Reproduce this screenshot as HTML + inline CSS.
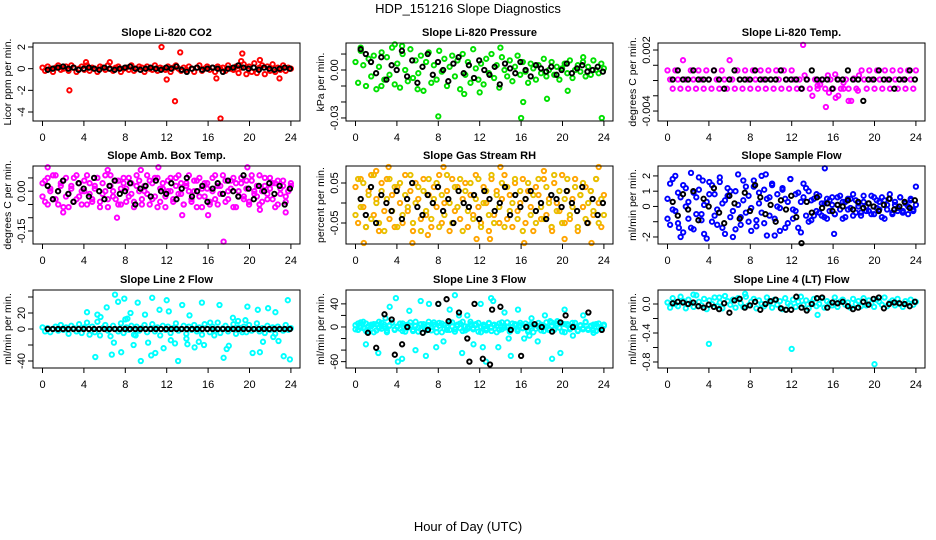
<!DOCTYPE html>
<html><head><meta charset="utf-8"><title>HDP_151216 Slope Diagnostics</title>
<style>
html,body{margin:0;padding:0;background:#fff;}
svg{display:block;font-family:"Liberation Sans",sans-serif;}
</style></head>
<body>
<svg id="chart" width="936" height="540" viewBox="0 0 936 540" xmlns="http://www.w3.org/2000/svg">
<rect x="0" y="0" width="936" height="540" fill="#fff"/>
<text x="468" y="13" font-size="13" text-anchor="middle">HDP_151216  Slope Diagnostics</text>
<text x="468" y="531" font-size="13" text-anchor="middle">Hour of Day (UTC)</text>
<g id="panels"></g>
</svg>
<script>
// ---- data (values in panel units; see unit per panel) ----
const xTickHours = [0,4,8,12,16,20,24];
const xTickLabels = ['0','4','8','12','16','20','24'];

const co2Band = [1,-2,2,0,-3,1,3,-1,0,2,-2,3,1,-3,0,2,-1,3,-2,1,0,-3,2,1,-1,3,0,-2,1,2,-3,0,1,-1,3,-2,0,2,1,-3,2,0,-1,3,-2,1,0,-1,2,-3,1,3,0,-2,1,-1,2,0,-3,1,3,-2,0,2,-1,1,-3,2,0,1,-2,3,0,-1,2,-4,1,4,-5,2,-3,5,-4,1,3,-5,2,-2,4,-3,1,-1,3,-2,1,0];
const co2Black = [-1,0,1,2,0,1,-1,0,1,0,-1,1,0,-1,0,1,2,0,-1,0,1,0,-1,1,0,2,-1,-3,0,1,-1,0,1,0,-3,0,1,3,1,0,1,-1,1,0,-1,0,1,0];
const co2ExH = [2.6,11.5,12,12.8,13.3,16.8,17.2,19.3,21,4.2,6.5,19.2,22.9];
const co2ExV = [-20,20,-10,-30,15,-9,-46,14,8,6,6,7,-9];

const presBand = [5,-8,12,3,-10,7,-4,9,-12,2,11,-6,8,-3,14,-9,4,-11,10,0,-7,13,-5,6,-2,9,-13,5,11,-8,3,-6,12,-1,7,-10,2,9,-4,6,-12,10,-3,5,-8,13,1,-6,4,-9,7,-2,10,-5,3,-11,8,0,-4,6,-7,2,9,-3,5,-1,-8,4,1,-6,3,-2,7,-4,0,5,-3,2,-6,1,4,-2,6,-5,0,3,-1,5,-4,2,-3,6,0,-2,4,1];
const presBlack = [13,10,5,-2,8,-6,3,0,12,-4,6,-8,2,10,-3,5,0,-7,4,8,-2,3,-5,6,0,-3,2,-9,4,1,-2,5,0,-4,3,1,-1,2,-3,0,4,-2,1,3,-1,0,2,-1];
const presExH = [0.5,3.8,4.5,8,10.5,14,16,16.2,18.5,23.8,6,2.5,12,20.5,22];
const presExV = [14,16,15,-29,-15,14,-30,-20,-18,-30,-12,-10,-14,-13,8];

const tempBand = [0,-9,-18,0,-9,-18,10,-9,-18,0,-9,-18,0,-9,-18,0,-9,-18,0,-9,-18,0,-9,-18,10,-9,-18,0,-9,-18,0,-9,-18,0,-9,-18,0,-9,-18,0,-9,-18,0,-9,-18,0,-9,-18,0,-9,-18,-9,-18,-5,-9,-18,-25,-9,-18,-14,-9,-18,-5,-9,-18,-27,-9,-18,-18,-9,-18,-30,-9,-18,-5,0,-9,-18,0,-9,-18,0,-9,-18,0,-9,-18,0,-9,-18,0,-9,-18,0,-9,-18,0];
const tempBlack = [-9,0,-9,-9,0,-9,-9,-9,0,-9,-18,-9,0,-9,-9,-9,0,-9,-9,-9,-9,0,-9,-9,-9,-18,-9,0,-9,-9,-9,-18,-9,-9,0,-9,-9,-30,-9,-9,0,-9,-9,-18,-9,-9,0,-9];
const tempExH = [0.6,13.1,15.3,15.6,16.5,17,17.5,18,18.4,14.5,16.2];
const tempExV = [28,25,-36,-22,-25,-12,-30,-8,-20,-15,-4];

const ambBand = [3,-4,5,0,-3,6,-5,2,4,-2,-6,1,5,-3,3,-5,0,6,-1,-4,2,5,-6,3,0,-3,6,-2,4,-5,1,3,-4,5,-1,-6,2,4,-3,0,6,-5,3,-2,5,-4,1,-6,4,0,-3,5,-1,3,-5,2,6,-4,0,4,-2,-6,3,1,-5,5,-3,2,-1,6,-4,0,4,-6,3,-2,5,-3,1,-5,4,0,-2,6,-4,2,-1,5,-3,3,-5,1,4,-2,0,2];
const ambBand2 = [-2,4,-5,1,6,-3,0,3,-6,5,-1,2,-4,6,-2,0,4,-5,3,-3,1,5,-4,-1,6,-6,2,0,-3,4,-5,5,1,-2,3,-4,6,0,-5,2,-1,4,-3,5,-6,1,3,-2,0,5,-4,2,6,-1,-5,3,0,-3,4,-6,5,1,-2,3,-4,0,6,-5,2,-1,4,-3,1,5,-6,0,3,-2,4,-4,6,-1,2,-5,0,5,-3,1,3,-6,4,-1,2,-4,0,3];
const ambBlack = [2,-3,0,4,-1,-4,3,1,-2,5,0,-3,2,4,-1,0,3,-5,1,2,-2,4,0,-1,3,-3,1,5,-2,0,2,-4,1,3,-1,4,0,-2,6,1,-3,2,0,3,-1,2,-5,1];
const ambExH = [0.5,2,7.2,9.5,13.5,16,17.5,19.8,21,23.5,6.3,11.2];
const ambExV = [9,-8,-10,8,-9,-9,-19,9,-7,-8,8,9];

const rhBand = [4,-5,6,-1,-6,3,7,-3,1,-7,5,-2,6,-4,2,-6,4,0,-5,7,-2,3,-7,5,1,-4,6,-3,2,-6,4,-1,7,-5,0,3,-7,6,-2,4,-4,1,5,-6,2,-3,7,-1,-5,4,0,-7,6,-3,3,-5,1,7,-4,2,-6,5,-2,0,6,-5,3,-1,-7,4,2,-4,6,-3,1,-6,5,0,-2,7,-5,3,-4,1,6,-7,2,-1,4,-5,3,-3,6,0,-6,2];
const rhBand2 = [-3,6,-1,5,-6,2,-4,7,0,-5,3,-7,1,6,-2,4,-6,5,-3,2,-1,7,-5,0,4,-7,3,-2,6,-4,1,5,-6,2,-3,7,0,-5,4,-1,6,-7,3,-2,5,-4,1,6,-6,0,3,-3,7,-5,2,-1,5,-6,4,-2,0,6,-4,3,-7,1,5,-3,2,-5,6,-1,-4,4,0,-6,7,-2,3,-5,1,6,-3,-1,4,-6,2,5,-4,0,3,-2,6,-5,1,-3];
const rhBlack = [1,-3,4,-5,2,0,-2,3,-4,1,5,-1,-3,2,0,4,-2,1,-5,3,0,-1,2,-4,3,1,-2,0,4,-3,2,-1,1,3,-2,0,-4,2,1,-1,3,0,-2,4,-5,1,-3,0];
const rhExH = [0.8,2,5.5,8.5,11.7,14,16.3,18.2,20.2,22.8,23.5,3.2,7,13,19];
const rhExV = [-10,8,-10,9,-9,9,-10,8,-9,-10,9,9,-8,-9,-7];

const flowBand = [5,-12,18,-3,9,-20,14,0,-8,22,-15,6,11,-5,-18,3,16,-10,8,-2,19,-14,4,12,-7,-20,10,1,-12,17,-4,7,-16,13,-9,2,20,-11,5,-6,15,-19,8,-1,11,-14,3,18,-8,-3,9,-17,6,12,-10,4,-6,8,-4,2,-7,5,-3,6,-5,1,7,-8,3,-2,5,-6,4,0,-4,7,-3,2,-5,6,-1,3,-7,4,-2,8,-5,1,-3,6,-4,2,0,5,-3,13];
const flowBand2 = [-8,15,-2,20,-11,6,-17,12,3,-14,9,-5,19,-9,1,-21,8,14,-6,-12,16,2,-18,7,10,-3,-15,21,-7,4,13,-10,-1,17,-13,9,-4,11,-19,6,14,-8,0,-16,12,5,-11,18,-2,8,-14,3,15,-6,10,-9,5,-3,7,-6,2,-8,4,1,-5,6,-2,3,-7,5,-1,8,-4,2,-6,3,0,-3,7,-5,4,-2,6,-8,1,5,-4,3,-1,6,-3,2,-5,4,-2,1];
const flowBlack = [3,-6,8,-2,10,-9,5,0,12,-4,-11,7,2,-8,9,-3,14,6,-5,1,-10,4,-2,7,-7,-24,3,-4,6,-1,2,-3,1,0,4,-2,3,-1,2,0,-3,1,5,-2,0,3,-1,4];
const flowExH = [9.5,15.2,16.1,1.1,3.4];
const flowExV = [21,25,-18,-14,17];

const l2Band = [2,-3,1,-4,0,3,-2,5,-1,2,-6,4,1,-3,6,-5,2,8,-7,3,-4,9,-8,1,5,-2,-9,4,0,-3,7,-5,2,-1,4,-7,3,-2,1,5,-4,0,6,-3,2,-8,4,-1,3,-5,1,7,-2,0,4,-6,3,-1,5,-3,2,-7,6,0,-4,3,-2,8,-5,1,4,-3,0,6,-6,2,-1,3,-4,5,-2,0,7,-3,1,-5,4,-1,2,-6,3,0,-2,5,-1,1];
const l2Black = [0,0,0,0,0,0,0,0,0,0,0,0,0,0,0,0,0,0,0,0,0,0,0,0,0,0,0,0,0,0,0,0,0,0,0,0,0,0,0,0,0,0,0,0,0,0,0,0];
const l2ExH = [4.3,5.1,5.6,6.2,6.7,7,7.3,7.6,7.9,8.2,8.5,8.8,9.2,9.5,9.9,10.2,10.6,10.9,11.3,11.7,12,12.4,12.8,13.1,13.5,13.9,14.2,14.7,15.1,15.6,16.2,16.6,17.1,17.5,18,18.4,18.9,19.3,19.8,20.3,20.8,21.3,21.8,22.3,22.8,23.3,23.7,5.3,6.9,8,9,10.5,12.2,14,15.4,17.8,19.6,21,22.5,23.9];
const l2ExV = [21,-35,15,27,-32,43,34,-29,38,13,20,-20,33,-40,18,-17,39,-30,24,-24,36,-14,-18,-40,30,-12,17,-23,-16,-20,8,-8,30,-36,-21,14,10,-4,28,-30,24,-16,26,-10,-15,-34,36,18,-17,12,-8,-33,22,-19,33,-25,11,-29,21,-38];

const l3Band = [3,-5,8,-2,6,-8,1,5,-6,9,-3,4,-9,2,7,-4,0,6,-7,3,-1,8,-5,2,-8,5,1,-3,9,-6,4,-2,7,-9,3,0,-5,8,-4,2,6,-7,1,-3,9,-2,5,-8,0,4,-6,7,-1,3,-9,6,-4,2,8,-5,0,5,-7,3,-2,6,-8,1,4,-3,7,-6,2,0,-5,8,-4,3,-1,6,-9,5,-2,1,7,-7,3,-4,8,-3,2,-6,5,0,-1,4];
const l3Band2 = [-4,6,-1,9,-7,2,4,-9,5,-2,7,0,-6,3,8,-5,1,-3,6,-8,4,2,-7,9,-1,-4,5,-6,3,0,8,-9,2,6,-3,-5,7,1,-8,4,-2,9,-6,0,5,-4,3,7,-9,1,-3,6,-7,4,2,-5,8,-1,0,-8,6,3,-4,7,-2,1,-6,5,-9,3,0,4,-7,8,-3,2,-5,6,-1,-8,5,3,-4,7,0,-6,2,-2,9,-5,1,4,-7,6,-3,2];
const l3Black = [-10,22,13,-48,-30,0,-10,-5,40,10,25,-20,40,-55,-65,30,35,-5,-50,0,5,0,-8,8,20,0,25,-5,48,-36,-60];
const l3BlackH = [1.2,2.8,3.5,3.8,4.5,5,6.5,7,8,9,10,10.8,11.5,12.3,13,13.2,14,15,16,16.5,17.3,18,19,19.8,20.3,21,22.5,23.8,8.8,2,11];
const l3ExH = [1,2.2,3.3,3.9,4.5,5.2,5.8,6.3,7.1,7.8,8.5,9.1,9.6,10.3,10.8,11.4,12.1,12.6,13.3,13.8,14.4,15,15.7,16.3,17,17.6,18.3,19,19.5,19.8,20.2,21,22,23,6.8,8,10,12.3,13.1,14.8,4.1,2.9,18.8,16.8];
const l3ExV = [-30,-45,35,50,-55,28,-40,45,40,-35,-25,30,55,-45,20,-30,40,-60,45,-35,25,-50,30,-20,15,-25,20,-55,10,-45,30,-15,20,-10,-50,40,20,-35,50,-20,-60,15,10,-15];

const l4Band = [2,-5,8,0,-3,10,4,-6,6,1,-4,12,3,-2,7,-7,5,0,9,-3,2,-6,11,4,-1,6,-5,8,1,-4,10,-2,3,7,-6,5,0,-3,9,2,-5,6,-1,4,-7,8,1,-2,6,-4,3,10,-1,5,-6,2,7,-3,0,8,-5,4,1,-2,9,-4,3,6,-1,2,-5,7,0,4,-3,8,-2,5,1,-4,6,3,-1,9,-3,2,5,-2,7,0,-4,4,1,6,-1,3];
const l4Black = [1,3,2,0,2,-3,-5,-1,-4,-7,1,-12,5,7,-5,-2,3,-8,0,4,6,-6,-8,-8,10,-5,-9,0,8,9,-5,2,1,3,-3,-7,-5,3,-1,7,9,-6,0,2,1,0,-3,3];
const l4ExH = [4,12,20,14.5,5,7.5,2.5];
const l4ExV = [-55,-62,-83,-15,9,14,13];

// ---- layout (not data) ----
const colLeft = [33,346,658], rowTop = [43,166,290], boxW = 267, boxH = 78;

const panels = [
 {name:'co2',title:'Slope Li-820 CO2',ylab:'Licor ppm per min.',col:0,row:0,ymin:-4.83,ymax:2.37,unit:0.1,ticks:[2,0,-2,-4],labels:['2','0','-2','-4'],colors:['#ff0000'],bands:[co2Band],black:co2Black,exH:co2ExH,exV:co2ExV},
 {name:'pressure',title:'Slope Li-820 Pressure',ylab:'kPa per min.',col:1,row:0,ymin:-0.0319,ymax:0.0169,unit:0.001,ticks:[0.01,0,-0.01,-0.02,-0.03],labels:['','0.00','','','-0.03'],colors:['#00e000'],bands:[presBand],black:presBlack,exH:presExH,exV:presExV},
 {name:'temp',title:'Slope Li-820 Temp.',ylab:'degrees C per min.',col:2,row:0,ymin:-0.00498,ymax:0.00269,unit:0.0001,ticks:[0.002,0.0005,-0.001,-0.0025,-0.004],labels:['0.002','','','','-0.004'],colors:['#ff00ff'],bands:[tempBand],black:tempBlack,exH:tempExH,exV:tempExV},
 {name:'amb-box-temp',title:'Slope Amb. Box Temp.',ylab:'degrees C per min.',col:0,row:1,ymin:-0.199,ymax:0.095,unit:0.01,ticks:[0.05,0,-0.05,-0.1,-0.15],labels:['','0.00','','','-0.15'],colors:['#ff00ff','#ff00ff'],bands:[ambBand,ambBand2],black:ambBlack,exH:ambExH,exV:ambExV},
 {name:'gas-stream-rh',title:'Slope Gas Stream RH',ylab:'percent per min.',col:1,row:1,ymin:-0.1025,ymax:0.0925,unit:0.01,ticks:[0.05,0,-0.05],labels:['0.05','','-0.05'],colors:['#ffa500','#e8c000'],bands:[rhBand,rhBand2],black:rhBlack,exH:rhExH,exV:rhExV},
 {name:'sample-flow',title:'Slope Sample Flow',ylab:'ml/min per min.',col:2,row:1,ymin:-2.46,ymax:2.65,unit:0.1,ticks:[2,1,0,-1,-2],labels:['2','1','0','','-2'],colors:['#0000ff','#0000ff'],bands:[flowBand,flowBand2],black:flowBlack,exH:flowExH,exV:flowExV},
 {name:'line2-flow',title:'Slope Line 2 Flow',ylab:'ml/min per min.',col:0,row:2,ymin:-48.75,ymax:48.75,unit:1,ticks:[40,20,0,-20,-40],labels:['','20','0','','-40'],colors:['#00ffff'],bands:[l2Band],black:l2Black,exH:l2ExH,exV:l2ExV},
 {name:'line3-flow',title:'Slope Line 3 Flow',ylab:'ml/min per min.',col:1,row:2,ymin:-71,ymax:64,unit:1,ticks:[40,20,0,-20,-40,-60],labels:['40','','0','','','-60'],colors:['#00ffff','#00ffff'],bands:[l3Band,l3Band2],black:l3Black,blackH:l3BlackH,exH:l3ExH,exV:l3ExV},
 {name:'line4-flow',title:'Slope Line 4 (LT) Flow',ylab:'ml/min per min.',col:2,row:2,ymin:-0.883,ymax:0.193,unit:0.01,ticks:[0,-0.2,-0.4,-0.6,-0.8],labels:['0.0','','-0.4','','-0.8'],colors:['#00ffff'],bands:[l4Band],black:l4Black,exH:l4ExH,exV:l4ExV}
];

const NS = 'http://www.w3.org/2000/svg';
function mk(tag, attrs, parent){
  const e = document.createElementNS(NS, tag);
  for (const k in attrs) e.setAttribute(k, attrs[k]);
  parent.appendChild(e);
  return e;
}
const root = document.getElementById('panels');

panels.forEach(p => {
  const L = colLeft[p.col], T = rowTop[p.row];
  const xS = h => L + 9.5 + h * 10.35;
  const yS = v => T + (p.ymax - v) / (p.ymax - p.ymin) * boxH;
  const g = mk('g', {}, root);
  
  

  const title = mk('text', {x: L + boxW/2, y: T - 7, 'font-size': 11, 'font-weight': 'bold', 'text-anchor': 'middle'}, g);
  title.textContent = p.title;
  
  

  const yl = mk('text', {x: 0, y: 0, 'font-size': 10.5, 'text-anchor': 'middle', transform: 'translate(' + (L - 22) + ',' + (T + boxH/2) + ') rotate(-90)'}, g);
  yl.textContent = p.ylab;
  
  

  const pts = mk('g', {fill: 'none', 'stroke-width': 1.9}, g);
  
  
  const dot = (h, v, c) => {
    const y = yS(v);
    if (y < T - 1 || y > T + boxH + 1) return;
    const cc = mk('circle', {cx: xS(h).toFixed(1), cy: y.toFixed(1), r: 2.2, stroke: c}, pts);
    
    
  };
  p.bands.forEach((b, bi) => {
    b.forEach((v, i) => dot(i * 24 / (b.length - 1), v * p.unit, p.colors[bi]));
  });
  p.exH.forEach((h, i) => dot(h, p.exV[i] * p.unit, p.colors[0]));
  p.black.forEach((v, i) => {
    const h = p.blackH ? p.blackH[i] : 0.5 + i * 23.4 / (p.black.length - 1);
    dot(h, v * p.unit, '#000');
  });

  const box = mk('rect', {x: L, y: T, width: boxW, height: boxH, fill: 'none', stroke: '#000', 'stroke-width': 1}, g);
  
  

  const xa = mk('g', {}, g);
  
  
  mk('line', {x1: xS(0), x2: xS(24), y1: T + boxH, y2: T + boxH, stroke: '#000'}, xa);
  xTickHours.forEach((h, i) => {
    mk('line', {x1: xS(h), x2: xS(h), y1: T + boxH, y2: T + boxH + 5, stroke: '#000'}, xa);
    const t = mk('text', {x: xS(h), y: T + boxH + 20, 'font-size': 11, 'text-anchor': 'middle'}, xa);
    t.textContent = xTickLabels[i];
    
    
  });

  const ya = mk('g', {}, g);
  
  
  mk('line', {x1: L, x2: L, y1: yS(p.ticks[0]), y2: yS(p.ticks[p.ticks.length-1]), stroke: '#000'}, ya);
  p.ticks.forEach((v, i) => {
    const y = yS(v);
    mk('line', {x1: L - 5, x2: L, y1: y, y2: y, stroke: '#000'}, ya);
    if (p.labels[i]) {
      const t = mk('text', {x: 0, y: 0, 'font-size': 11, 'text-anchor': 'middle', transform: 'translate(' + (L - 8) + ',' + y + ') rotate(-90)'}, ya);
      t.textContent = p.labels[i];
      
      
    }
  });
});
</script>
</body></html>
